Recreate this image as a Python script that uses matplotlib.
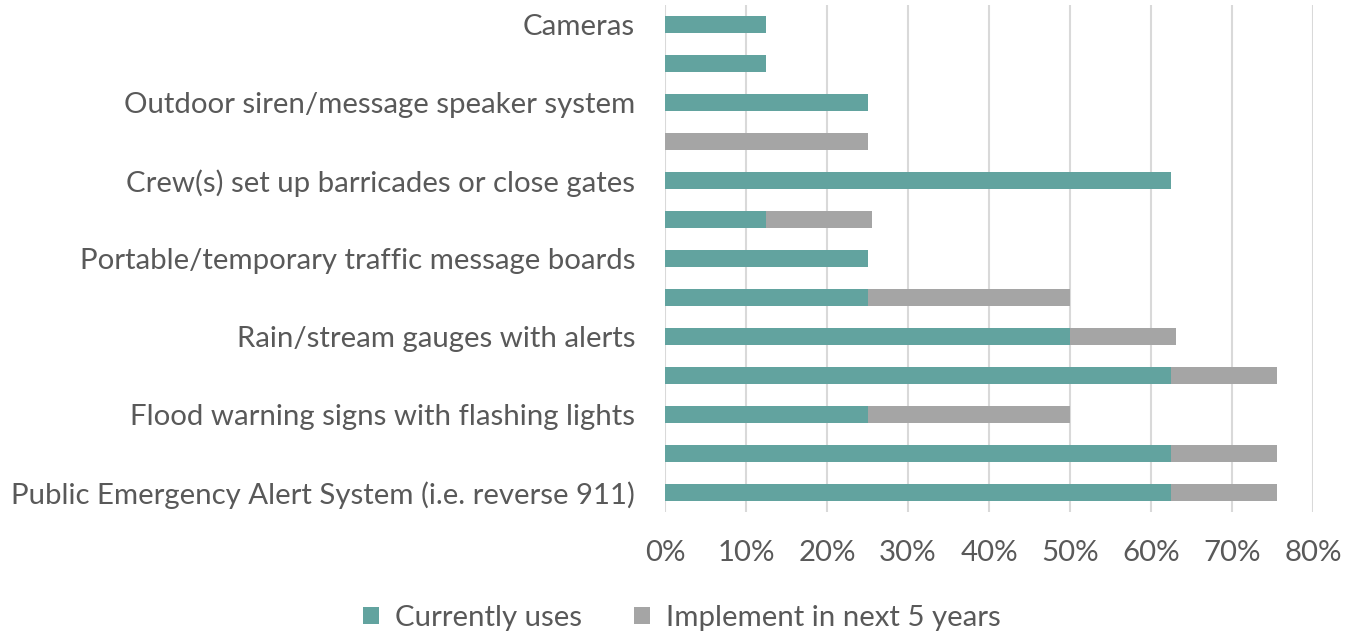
import matplotlib
matplotlib.use("Agg")
import matplotlib.pyplot as plt
from matplotlib.ticker import FuncFormatter, MultipleLocator
from matplotlib.patches import Patch

# Categories from bottom to top (blank entries are rows whose labels are not shown)
categories = [
    "Public Emergency Alert System (i.e. reverse 911)",
    "",
    "Flood warning signs with flashing lights",
    "",
    "Rain/stream gauges with alerts",
    "",
    "Portable/temporary traffic message boards",
    "",
    "Crew(s) set up barricades or close gates",
    "",
    "Outdoor siren/message speaker system",
    "",
    "Cameras",
]
currently_uses = [62.5, 62.5, 25.0, 62.5, 50.0, 25.0, 25.0, 12.5, 62.5, 0.0, 25.0, 12.5, 12.5]
next_5_years = [13.1, 13.1, 25.0, 13.1, 13.1, 25.0, 0.0, 13.1, 0.0, 25.0, 0.0, 0.0, 0.0]
series_names = ["Currently uses", "Implement in next 5 years"]

TEAL = "#62a39f"
GRAY = "#a5a5a5"
TEXT = "#595959"
GRID = "#d9d9d9"
FONT = "Lato"
SIZE = 21.2

fig = plt.figure(figsize=(13.56, 6.34), dpi=100)
ax = fig.add_axes([665 / 1356, 1 - 512 / 634, (1313 - 665) / 1356, (512 - 5) / 634])

y = list(range(len(categories)))
ax.barh(y, currently_uses, height=0.42, color=TEAL, zorder=3)
ax.barh(y, next_5_years, left=currently_uses, height=0.42, color=GRAY, zorder=3)

ax.set_xlim(0, 80)
ax.set_ylim(-0.5, len(categories) - 0.5)
ax.xaxis.set_major_locator(MultipleLocator(10))
ax.xaxis.set_major_formatter(FuncFormatter(lambda v, _: f"{v:.0f}%"))
ax.grid(axis="x", color=GRID, linewidth=1.5, zorder=0)
ax.set_axisbelow(True)

ax.set_yticks(y)
ax.set_yticklabels(categories)
for s in ax.spines.values():
    s.set_visible(False)
ax.tick_params(axis="y", length=0, pad=21.5, labelsize=SIZE, labelcolor=TEXT)
ax.tick_params(axis="x", length=0, pad=20, labelsize=SIZE, labelcolor=TEXT)
for lbl in ax.get_xticklabels() + ax.get_yticklabels():
    lbl.set_fontfamily(FONT)

handles = [Patch(facecolor=TEAL), Patch(facecolor=GRAY)]
fig.legend(handles, series_names, loc="center", bbox_to_anchor=(682 / 1356, 1 - 618 / 634),
           ncol=2, frameon=False, handlelength=0.55, handleheight=0.55, handletextpad=0.55,
           columnspacing=1.75, prop={"family": FONT, "size": SIZE}, labelcolor=TEXT)

fig.savefig("out.png", dpi=100)
